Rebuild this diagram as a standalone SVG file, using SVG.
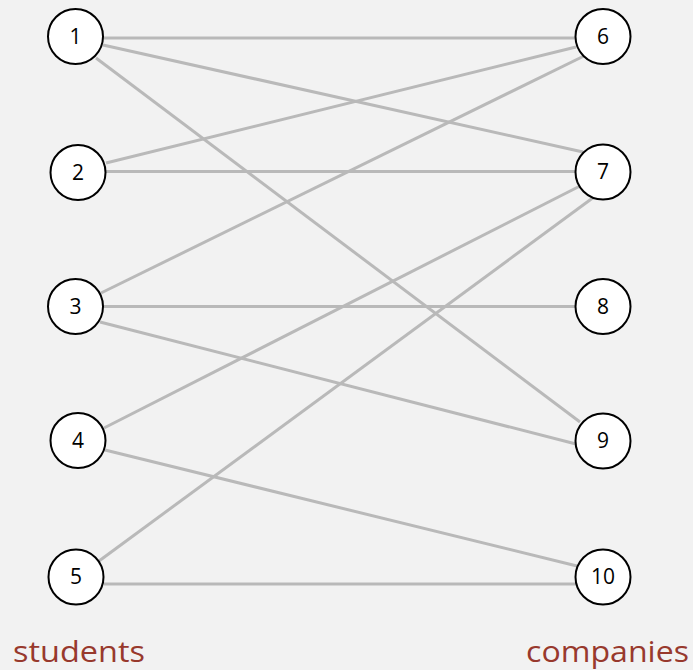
<svg xmlns="http://www.w3.org/2000/svg" width="693" height="670" viewBox="0 0 693 670">
<style>
.edge{stroke:#b9b9b9;stroke-width:3;fill:none}
.node circle{fill:#ffffff;stroke:#000000;stroke-width:2}
.node text{font-family:"Open Sans","DejaVu Sans",sans-serif;font-size:21px;fill:#000000;text-anchor:middle;dominant-baseline:central}
.label{font-family:"Open Sans","DejaVu Sans",sans-serif;font-size:29px;fill:#98392d}
</style>
<rect width="693" height="670" fill="#f2f2f2"/>
<g id="connectors">
<line class="edge" x1="103" y1="38" x2="576" y2="38"/>
<line class="edge" x1="103" y1="45" x2="583" y2="152"/>
<line class="edge" x1="96" y1="58" x2="580" y2="422"/>
<line class="edge" x1="106" y1="163" x2="576" y2="47"/>
<line class="edge" x1="106" y1="171.5" x2="576" y2="171.5"/>
<line class="edge" x1="101" y1="293" x2="586" y2="55"/>
<line class="edge" x1="103" y1="306.5" x2="576" y2="306.5"/>
<line class="edge" x1="100" y1="322" x2="576" y2="444"/>
<line class="edge" x1="104" y1="428" x2="580" y2="186"/>
<line class="edge" x1="105" y1="450" x2="577" y2="566"/>
<line class="edge" x1="99" y1="561" x2="594" y2="197"/>
<line class="edge" x1="104" y1="584" x2="576" y2="584"/>
</g>
<g id="n1" class="node"><circle cx="75.5" cy="36.5" r="27.5"/><text x="75.5" y="35.5">1</text></g>
<g id="n2" class="node"><circle cx="78" cy="172.5" r="27.5"/><text x="78" y="171.5">2</text></g>
<g id="n3" class="node"><circle cx="75.5" cy="306.5" r="27.5"/><text x="75.5" y="305.5">3</text></g>
<g id="n4" class="node"><circle cx="78" cy="440.5" r="27.5"/><text x="78" y="439.5">4</text></g>
<g id="n5" class="node"><circle cx="76" cy="577" r="27.5"/><text x="76" y="576">5</text></g>
<g id="n6" class="node"><circle cx="603" cy="36.5" r="27.5"/><text x="603" y="35.5">6</text></g>
<g id="n7" class="node"><circle cx="603" cy="172" r="27.5"/><text x="603" y="171">7</text></g>
<g id="n8" class="node"><circle cx="603" cy="306.5" r="27.5"/><text x="603" y="305.5">8</text></g>
<g id="n9" class="node"><circle cx="603" cy="441" r="27.5"/><text x="603" y="440">9</text></g>
<g id="n10" class="node"><circle cx="603" cy="577" r="27.5"/><text x="603" y="576">10</text></g>
<text class="label" x="13" y="662" textLength="132" lengthAdjust="spacingAndGlyphs">students</text>
<text class="label" x="526" y="662" textLength="163" lengthAdjust="spacingAndGlyphs">companies</text>
</svg>
